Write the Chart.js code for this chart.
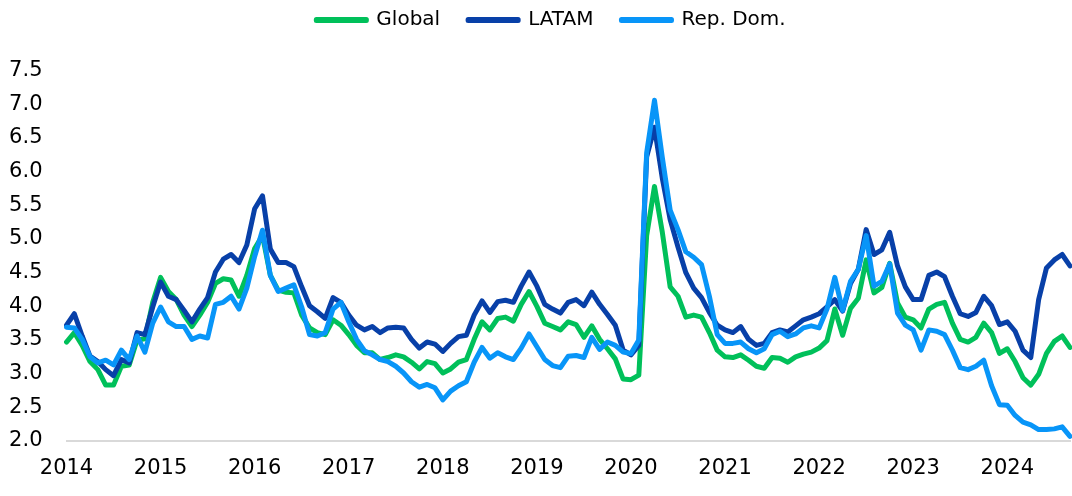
<!DOCTYPE html>
<html><head><meta charset="utf-8">
<script src="https://cdn.jsdelivr.net/npm/chart.js@4.4.1/dist/chart.umd.min.js"></script>
<style>html,body{margin:0;padding:0;background:#fff;}#wrap{width:1072px;height:496px;position:relative;}</style>
</head><body><div id="wrap"><canvas id="c"></canvas></div>
<script>
// Tick labels (one per January)
const yearTicks = ["2014","2015","2016","2017","2018","2019","2020","2021","2022","2023","2024"];
const monthCodes = ["01","02","03","04","05","06","07","08","09","10","11","12"];
// Categories: monthly, Jan 2014 - Sep 2024
const categories = [];
yearTicks.forEach(y => monthCodes.forEach(m => { if (categories.length < 129) categories.push(y + "-" + m); }));

const globalSeries = [
 3.47,3.61,3.42,3.18,3.06,2.83,2.83,3.11,3.13,3.50,3.52,4.06,
 4.43,4.22,4.10,3.87,3.70,3.87,4.06,4.34,4.41,4.39,4.15,4.46,
 4.86,5.05,4.46,4.24,4.21,4.20,3.87,3.68,3.61,3.58,3.80,3.72,
 3.58,3.42,3.31,3.31,3.21,3.24,3.28,3.25,3.17,3.07,3.18,3.15,
 3.01,3.07,3.17,3.21,3.51,3.77,3.65,3.82,3.84,3.78,4.03,4.22,
 4.00,3.75,3.70,3.65,3.77,3.73,3.54,3.71,3.51,3.37,3.22,2.92,
 2.91,2.98,5.05,5.78,5.10,4.29,4.15,3.84,3.87,3.84,3.61,3.35,
 3.25,3.24,3.28,3.20,3.11,3.08,3.24,3.23,3.17,3.25,3.29,3.32,
 3.38,3.49,3.96,3.57,3.97,4.12,4.69,4.20,4.28,4.64,4.05,3.84,
 3.80,3.68,3.96,4.03,4.06,3.75,3.51,3.47,3.54,3.75,3.61,3.30,
 3.37,3.18,2.94,2.83,2.99,3.30,3.48,3.56,3.39
];
const latamSeries = [
 3.72,3.89,3.56,3.26,3.18,3.06,2.97,3.21,3.16,3.61,3.58,3.99,
 4.36,4.15,4.10,3.94,3.77,3.96,4.13,4.51,4.70,4.77,4.65,4.91,
 5.45,5.64,4.85,4.65,4.65,4.59,4.29,4.01,3.92,3.82,4.13,4.06,
 3.87,3.72,3.65,3.70,3.61,3.68,3.69,3.68,3.51,3.38,3.47,3.44,
 3.33,3.45,3.55,3.57,3.87,4.08,3.91,4.07,4.09,4.06,4.30,4.51,
 4.30,4.03,3.96,3.90,4.06,4.10,4.01,4.21,4.03,3.88,3.72,3.35,
 3.28,3.42,6.22,6.66,5.90,5.29,4.88,4.50,4.27,4.13,3.91,3.72,
 3.65,3.61,3.70,3.51,3.42,3.45,3.61,3.65,3.62,3.71,3.80,3.84,
 3.89,3.99,4.10,3.93,4.34,4.55,5.14,4.77,4.84,5.10,4.60,4.29,
 4.10,4.10,4.46,4.51,4.44,4.15,3.89,3.85,3.91,4.15,4.01,3.73,
 3.77,3.63,3.35,3.24,4.10,4.57,4.69,4.77,4.60
];
const repDomSeries = [
 3.69,3.68,3.51,3.25,3.16,3.20,3.13,3.35,3.21,3.56,3.32,3.75,
 3.99,3.77,3.70,3.70,3.51,3.56,3.53,4.03,4.06,4.15,3.96,4.27,
 4.74,5.13,4.46,4.22,4.27,4.32,3.99,3.58,3.56,3.61,3.96,4.06,
 3.77,3.51,3.34,3.28,3.21,3.18,3.11,3.01,2.88,2.80,2.84,2.79,
 2.61,2.74,2.82,2.88,3.17,3.39,3.23,3.31,3.25,3.21,3.38,3.59,
 3.40,3.21,3.12,3.09,3.26,3.27,3.24,3.54,3.36,3.47,3.42,3.32,
 3.30,3.50,6.28,7.06,6.21,5.43,5.14,4.81,4.73,4.62,4.15,3.58,
 3.45,3.45,3.47,3.37,3.31,3.37,3.58,3.63,3.55,3.59,3.68,3.71,
 3.68,3.96,4.43,3.94,4.37,4.55,5.05,4.30,4.37,4.63,3.90,3.72,
 3.65,3.35,3.65,3.63,3.58,3.35,3.09,3.06,3.11,3.20,2.82,2.54,
 2.53,2.38,2.28,2.24,2.17,2.17,2.18,2.21,2.07
];

const GREEN = '#00C05A', DARK = '#0840A8', LIGHT = '#0895F8';
const FONT = 'DejaVu Sans';

function ds(label, data, color, order) {
  return { label, data, borderColor: color, backgroundColor: color, borderWidth: 5,
    pointRadius: 0, pointHoverRadius: 0, tension: 0, fill: false, order,
    borderJoinStyle: 'round', borderCapStyle: 'round' };
}

const legendPlace = {
  id: 'legendPlace',
  beforeInit(chart) {
    const orig = chart.legend.fit;
    chart.legend.fit = function () { orig.call(this); this.height = 70.7; };
  },
  afterLayout(chart) {
    const lg = chart.legend;
    lg.left += 16; lg.right += 16;
    lg.top -= 18; lg.bottom -= 18;
  }
};

new Chart(document.getElementById('c'), {
  type: 'line',
  data: {
    labels: categories,
    datasets: [
      ds('Global', globalSeries, GREEN, 3),
      ds('LATAM', latamSeries, DARK, 2),
      ds('Rep. Dom.', repDomSeries, LIGHT, 1)
    ]
  },
  options: {
    responsive: true, maintainAspectRatio: false, animation: false,
    layout: { padding: { left: 0, right: 2, top: 0, bottom: 0 } },
    plugins: {
      tooltip: { enabled: false },
      legend: {
        position: 'top', align: 'center',
        labels: {
          font: { family: FONT, size: 20 }, color: '#000',
          boxWidth: 50, boxHeight: 1, padding: 28,
          sort: (a, b) => a.datasetIndex - b.datasetIndex
        }
      }
    },
    scales: {
      x: {
        grid: { display: false, drawTicks: false },
        border: { display: true, color: '#d9d9d9', width: 2 },
        ticks: {
          autoSkip: false, maxRotation: 0, minRotation: 0, padding: 17,
          font: { family: FONT, size: 21, lineHeight: 1 }, color: '#000',
          callback: (v, i) => (i % 12 === 0 ? yearTicks[i / 12] : null)
        }
      },
      y: {
        min: 2, max: 7.5,
        grid: { display: false, drawTicks: false },
        border: { display: false },
        afterFit: (s) => { s.width = 66.5; },
        ticks: {
          stepSize: 0.5, padding: 24,
          font: { family: FONT, size: 21 }, color: '#000',
          callback: (v) => Number(v).toFixed(1)
        }
      }
    }
  },
  plugins: [legendPlace]
});
</script></body></html>
